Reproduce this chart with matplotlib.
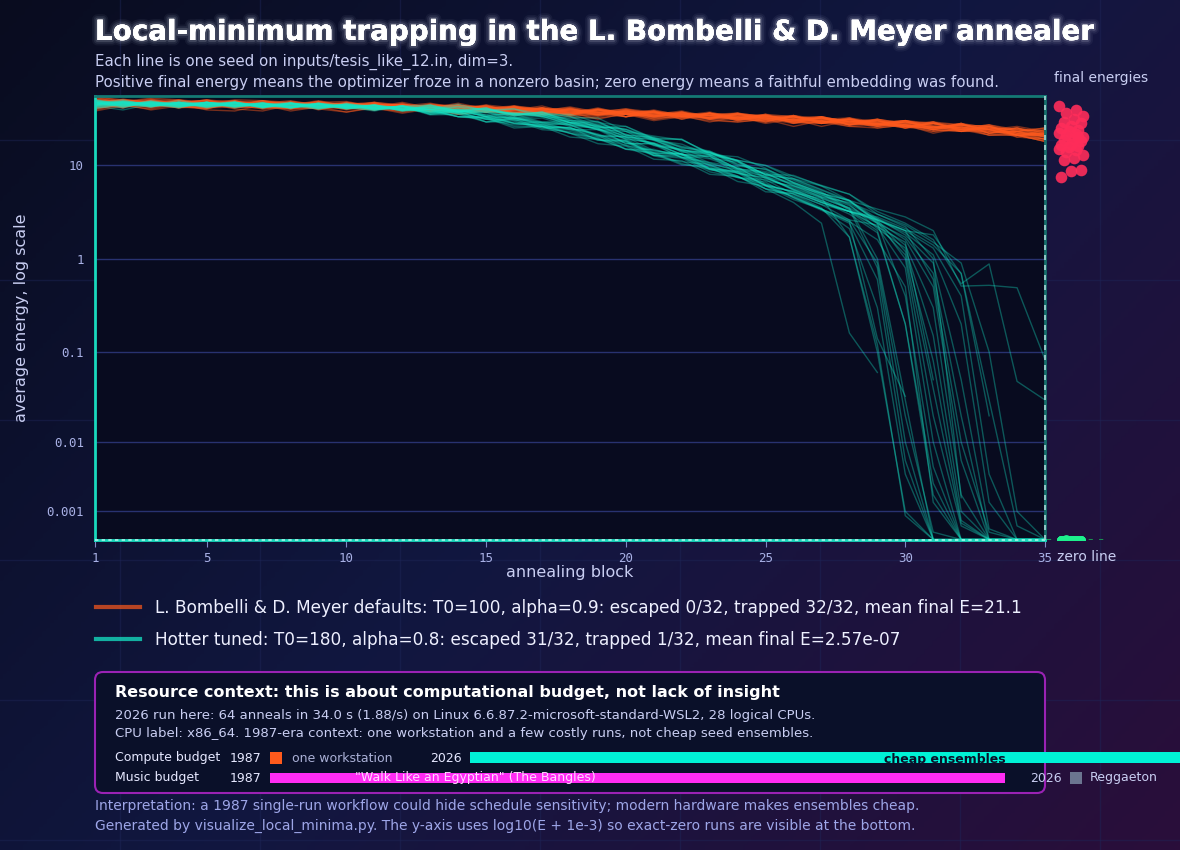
import numpy as np
import matplotlib
matplotlib.use("Agg")
import matplotlib.pyplot as plt
import matplotlib.patheffects as pe
from matplotlib.colors import LinearSegmentedColormap
from matplotlib.patches import FancyBboxPatch, Rectangle
from matplotlib.lines import Line2D

nan = np.nan
blocks = list(range(1, 36))

# average energy per annealing block, one row per seed (defaults: T0=100, alpha=0.9)
default_runs = [
    [49,41,50,44,40,48,43,47,39,45,47,39,44,38,44,36,41,34,40,33,38,31,36,30,35,28,33,27,31,25,29,23,27,20,24],
    [42,50,44,48,41,45,49,40,47,42,39,46,38,44,37,43,35,41,34,39,32,37,31,36,29,34,28,32,26,30,24,28,22,25,20],
    [53,47,51,45,50,44,49,45,47,48,42,47,41,46,40,39,43,36,41,35,39,34,37,32,35,33,29,32,27,30,25,28,23,25,22],
    [40,45,39,43,46,40,38,44,40,37,42,37,41,35,39,36,34,37,31,36,31,34,29,33,28,31,26,30,25,27,23,26,21,22,19],
    [47,43,42,50,47,41,46,47,40,46,44,39,45,40,37,42,36,40,35,33,38,32,36,31,30,34,28,31,28,25,29,23,26,22,20],
    [44,51,46,41,48,49,40,43,48,40,45,44,38,44,39,36,41,35,39,36,33,37,31,35,33,29,33,27,31,28,24,28,22,23,21],
    [55,48,52,50,45,50,49,44,49,43,47,43,46,41,44,41,38,42,37,40,35,38,33,36,33,32,33,29,31,28,29,25,27,23,25],
    [38,43,40,45,39,38,44,38,42,37,41,36,40,35,38,34,36,33,32,35,30,33,30,29,31,26,30,26,25,27,22,25,21,21,18],
    [46,42,49,42,44,48,42,41,46,45,40,45,39,41,43,36,40,38,34,38,37,31,36,30,34,30,32,27,30,26,28,24,25,22,21],
    [48,49,43,46,50,42,47,46,41,47,42,40,43,44,37,42,37,35,39,35,33,36,34,32,29,34,29,31,27,29,25,27,22,25,21],
    [41,46,44,42,40,47,42,40,45,39,43,40,38,41,38,35,39,34,35,35,32,35,31,32,32,29,28,30,26,28,24,23,25,21,19],
    [51,46,50,49,44,43,49,47,44,42,47,44,42,44,39,43,40,37,40,37,38,35,34,35,34,32,33,29,31,27,29,27,24,26,23],
    [44,48,45,41,48,43,46,44,40,43,46,39,43,38,42,40,36,40,36,38,33,36,34,32,34,30,32,28,27,29,25,27,24,21,22],
    [50,42,49,47,42,49,42,48,45,41,45,43,39,44,39,39,41,35,39,35,38,33,36,34,31,33,31,29,30,27,25,28,25,22,22],
    [43,47,41,46,46,41,44,42,45,41,39,43,41,37,41,37,35,39,35,37,33,35,32,31,33,29,30,27,28,25,26,23,23,21,18],
    [48,50,47,45,44,48,46,43,46,46,42,42,44,41,40,42,38,37,39,36,35,37,33,34,32,31,32,30,28,30,26,25,27,24,23],
    [46,41,48,45,47,42,41,47,42,42,44,39,43,43,37,41,39,34,39,37,34,36,32,35,31,33,29,31,29,26,28,24,26,21,21],
    [53,46,46,50,43,49,45,44,48,43,43,45,41,39,43,39,41,39,35,39,36,34,36,32,35,30,33,29,28,30,26,25,25,24,21],
    [41,44,48,41,43,46,44,40,42,43,42,39,40,42,37,39,35,39,37,33,35,34,32,34,30,31,30,27,28,27,24,26,22,23,19],
    [46,48,42,47,47,44,45,46,44,40,45,44,38,43,42,36,40,38,35,38,34,37,32,33,34,28,32,29,30,25,28,25,24,21,22],
    [44,45,49,42,41,48,43,44,46,45,39,44,42,38,42,40,37,36,39,33,37,33,35,31,32,31,28,31,28,26,26,26,23,23,20],
    [51,45,45,48,49,42,46,49,43,46,44,41,45,42,39,42,39,40,36,37,36,34,34,36,31,32,31,30,27,30,27,24,25,24,23],
    [39,45,43,46,41,44,40,43,43,41,42,43,37,41,40,36,38,35,37,36,33,32,34,30,32,29,28,29,26,27,24,23,24,20,19],
    [48,44,47,42,47,45,46,42,46,44,43,39,43,41,39,41,37,38,37,35,34,36,32,33,30,33,30,28,30,26,25,27,24,22,22],
    [43,49,44,49,44,47,41,48,43,42,45,43,39,43,41,38,41,36,39,35,37,33,36,31,34,30,29,31,26,29,26,23,26,21,21],
    [54,50,48,46,50,47,48,45,44,47,43,45,42,44,41,43,39,41,37,40,37,35,35,36,33,34,31,32,29,30,28,27,26,23,25],
    [46,42,47,47,42,44,46,43,42,40,44,42,42,38,40,38,40,36,34,38,34,33,35,33,29,31,30,28,28,26,28,25,22,23,20],
    [44,47,42,45,46,47,43,46,44,45,40,44,38,43,42,36,37,39,37,33,37,33,32,35,32,29,32,27,29,27,24,27,24,21,19],
    [50,49,47,43,49,44,47,42,48,42,46,40,44,43,37,42,39,35,40,35,36,35,32,35,32,33,28,31,27,29,25,24,26,23,24],
    [41,43,45,43,41,42,42,40,41,42,40,38,41,37,39,35,37,35,33,37,31,34,31,29,31,28,29,26,27,26,23,24,21,21,18],
    [48,46,44,49,44,43,47,46,43,46,42,44,41,40,43,37,41,37,35,39,34,35,34,32,34,30,32,28,30,26,28,24,24,25,22],
    [46,44,49,44,47,47,43,43,46,42,45,40,42,43,38,41,36,40,36,35,37,33,36,31,33,33,29,31,27,29,25,27,26,21,21],
]

# hotter schedule: T0=180, alpha=0.8 (nan = run stopped logging)
hot_runs = [
    [48,42,47,44,47,41,46,43,40,45,40,43,35,36,29,31,25,24,19,18,12.8,12.3,8.9,8.3,5.6,4.7,3.4,2.1,0.3,0.004,0,0,0,0,0],
    [44,48,43,47,44,47,41,46,45,40,44,38,44,37,40,34,37,28.5,29,21,19.5,14.4,13.8,9.8,9.1,6.9,5.2,3.4,0.8,0.01,0,0,0,0,0],
    [47,44,48,42,45,44,46,41,46,44,39,43,37.6,33,32,25,26,22,17,16,11.6,11.2,8,7.6,5.6,4.0,2.4,0.16,0.06,nan,nan,nan,nan,nan,nan],
    [43,39,45,46,41,46,43,45,42,41,44,40,37,40,33,33,27,28,24,17,17,12,12.5,8.2,7.4,5.5,4.2,3.2,2.0,0.2,0.003,0,0,0,0],
    [50,46,44,49,44,48,42,46,42,44,41,42,43,39,41,35,36,30,27.6,24,19,15.6,13.8,10.3,8.0,7.8,6.0,4.2,2.5,1.0,0.02,0.0004,0,0,0],
    [42,47,45,41,47,43,46,41,45,42,38,43,35,38,29,32,26,24.5,20,18,13.5,13,9.2,8.6,6.1,4.5,3.4,2.5,0.14,0.033,nan,nan,nan,nan,nan],
    [46,50,43,47,43,47,42,46,41,46,41,39,43,37,41,32,35,28.5,26,20,18.7,13.8,13,9.1,8.6,6.6,5.0,3.3,2.2,1.5,0.05,nan,nan,nan,nan],
    [45,41,48,44,46,42,47,41,46,40,44,40,37,39,33,32,28.5,24,24,19,13.8,13.3,10.3,9,6.1,4.6,3.4,2.5,1.6,0.5,0.0015,0,0,0,0],
    [49,45,44,42,47,43,44,47,40,44,39,43,44,38,41,34,37,33,25,26,19,19,13,12.3,9.3,6.5,5.0,4.2,2.4,1.4,0.3,0.002,0,0,0],
    [43,47,42,47,42,46,41,45,43,44,41,41,37.5,40,34,35,29,30,24,21,17,13,12.6,8.8,8.2,6.1,4.6,4.0,3.0,2.2,1.0,0.0018,nan,nan,nan],
    [47,43,49,44,47,42,46,42,45,41,43,39,39,33,32.5,26,26,20,19,15,13.6,10.4,9.1,7.7,5.2,5.0,3.8,3.2,2.6,2.0,1.8,0.69,0.02,nan,nan],
    [44,49,44,46,43,47,42,46,42,43,40,43,40,45,38,40,35,35,28.6,26,19.5,18.9,13.3,11.3,9.9,7.2,6.0,4.9,3.2,2.4,1.6,0.54,0.88,0.048,0.03],
    [47,42,47,44,46,43,45,42,46,40,44,38,42,36,37,30,32,26,25,17,17,13,11.7,9.2,6.8,6.0,5.0,4.2,3.4,2.8,2.0,0.51,0.52,0.49,0.083],
    [49,46,42,47,44,46,43,45,41,45,39,43,36.5,37,31,31,25,25.5,18.5,18.5,12.8,12.8,9.1,7.4,7.0,4.9,3.8,2.6,0.9,0.02,0.0002,0,0,0,0],
    [42,45,47,42,47,44,44,41,45,42,43,39,41.5,37,40,34,35,29,27,20,19,14,13.5,11,7.2,5.8,4.5,1.7,0.1,0.001,0,0,0,0,0],
    [45,47,43,47,42,45,46,41,44,43,40,43,35.5,39,33,32,28,27,21,20,14.3,13.3,10,8.2,7.3,5.6,4.5,3.4,2.4,0.4,0.005,0,0,0,0],
    [50,43,46,44,46,47,42,45,41,45,41,39,44,38,39,35,37,30,29.5,21,20,15.3,14,11.2,7.9,6.4,4.8,3.9,2.6,1.2,0.08,0.0006,0,0,0],
    [45,48,45,42,47,43,44,46,43,41,44,41,36,37,31,30,24,23,19,16.4,12.7,11.9,8.5,7.4,6.2,5.2,4.0,3.2,2.6,2.0,0.6,0.01,0.0002,0,0],
    [41,46,43,47,44,46,43,42,45,42,41,42,39.5,37,38,31,33.5,27,25,19,17.3,13.1,12.4,9.3,7.5,5.4,4.1,3.0,1.9,0.2,0.002,0,0,0,0],
    [47,45,48,44,43,47,41,46,43,42,44,39,40,35.5,31.5,32,27,25,21,18.4,13.3,13.3,9.3,8.6,6.1,5.2,4.0,3.2,2.7,1.8,0.9,0.05,0.0003,0,0],
    [44,47,44,45,47,44,45,43,45,41,41,43,39,42,39,36,36,31,25.6,24.4,19.5,15.9,14.2,10.1,9.0,6.5,5.1,3.8,2.1,1.3,0.15,0.001,0,0,0],
    [48,44,46,43,46,46,42,44,40,44,43,40,40,33,33,28,26,25,21,14.8,14.8,12.2,9.1,8.4,6.0,5.3,4.0,3.2,2.8,2.1,1.4,0.7,0.03,0.0004,0],
    [43,47,45,47,42,44,46,43,46,41,39,42,39,42,34,36,33.5,27,26,21.6,16.2,14.6,13,9.2,8.3,6.0,4.6,3.5,1.0,0.03,0,0,0,0,0],
    [46,43,47,45,46,42,44,46,42,45,43,39,39.5,36,35,28,29,27,20.4,20.4,16.5,12.1,10.7,9.6,6.3,5.1,4.4,3.5,2.5,1.6,0.5,0.006,0,0,0],
    [45,48,43,46,44,47,43,45,44,41,42,42,40,43,39,40,33,32,32,23,20.5,18.6,13.6,11.3,10,7.6,6.1,4.9,3.0,2.3,1.5,0.9,0.1,0.001,0],
    [48,45,47,43,47,44,45,42,45,42,44,38,39,33,31,27,27.5,22,18.5,17.6,12.6,10.9,10.2,7.6,5.6,4.9,3.5,1.7,0.12,0.0008,0,0,0,0,0],
    [44,45,42,46,44,46,42,46,41,44,40,42,39,38.5,36.5,33.5,28.5,28.5,24.5,19.4,17.3,14.3,10.6,8.6,7.7,5.5,4.2,3.2,2.2,0.8,0.01,0,0,0,0],
    [46,48,46,44,45,43,46,42,45,43,42,40,41.5,37,37,36,34.5,28.5,26.5,23,18.4,14.4,13.7,11,7.9,7.1,5.4,4.1,2.6,1.9,1.1,0.2,0.0015,0,0],
    [40,46,44,47,43,45,44,45,43,44,40,43,37,38,33,28,26.5,25,21.6,16.2,14.4,13,9.9,7.4,6.6,4.5,3.3,2.4,0.6,0.006,0,0,0,0,0],
    [49,44,46,45,47,43,45,43,44,42,43,39,42,37.5,38,35.5,33,28.5,24,23,16.5,14.9,11.9,10.8,7.5,6.3,4.8,3.7,2.4,1.7,0.7,0.02,0,0,0],
    [45,47,45,43,44,46,42,46,42,43,41,42,34.5,35,29,29,26,22,19.5,14.8,13.3,10.1,9.6,6.7,6.0,4.3,3.4,2.6,2.3,1.1,0.04,0.0005,0,0,0],
    [47,43,46,46,42,47,43,41,46,42,43,40,42,38.9,40,35,34,33.6,26.4,24,18.6,16.8,12.8,11.2,7.9,7.2,5.5,4.2,2.7,2.0,1.3,0.4,0.004,0,0],
]

# final energies (end of each anneal)
default_final = [43, 39, 36, 34, 31, 29, 28, 26, 25, 24, 23, 22, 21.5, 21, 20, 19, 18.5, 18,
                 17, 16.5, 16, 15.5, 15, 14.5, 14, 13, 12, 11.5, 9, 8.6, 7.4, 20]
hot_final = [0] * 31 + [8.2e-6]

ytick_vals = [10, 1, 0.1, 0.01, 0.001]
xtick_vals = [1, 5, 10, 15, 20, 25, 30, 35]

legend_labels = [
    "L. Bombelli & D. Meyer defaults: T0=100, alpha=0.9: escaped 0/32, trapped 32/32, mean final E=21.1",
    "Hotter tuned: T0=180, alpha=0.8: escaped 31/32, trapped 1/32, mean final E=2.57e-07",
]

EPS = 1e-3
ORANGE = "#ff5a1c"
TEAL = "#16e6c6"
TXT = "#c9cef2"
W, H = 1180, 850


def fx(px):
    return px / W


def fy(py):
    return 1 - py / H


def tr(v):
    return np.log10(np.asarray(v, dtype=float) + EPS)


fig = plt.figure(figsize=(11.8, 8.5), dpi=100)

# background gradient + faint grid
bg = fig.add_axes([0, 0, 1, 1], zorder=-10)
gx, gy = np.meshgrid(np.linspace(0, 1, 300), np.linspace(0, 1, 300))
cmap = LinearSegmentedColormap.from_list("bg", ["#090c1f", "#111740", "#2a0e3a"])
bg.imshow((gx * 0.6 + gy * 0.4), cmap=cmap, aspect="auto", extent=[0, W, H, 0], origin="upper")
for xv in range(120, 1180, 140):
    bg.axvline(xv, color="#1e2658", lw=1, alpha=0.45)
for yv in range(140, 850, 140):
    bg.axhline(yv, color="#1e2658", lw=1, alpha=0.45)
bg.set_xlim(0, W)
bg.set_ylim(H, 0)
bg.axis("off")

# main axes
ax = fig.add_axes([fx(95), fy(540), fx(1045) - fx(95), fy(96) - fy(540)])
ax.set_facecolor("#080b1f")
for run in default_runs:
    ax.plot(blocks, tr(run), color=ORANGE, lw=1, alpha=0.45)
for run in hot_runs:
    ax.plot(blocks, tr(run), color=TEAL, lw=1, alpha=0.35)

ax.set_xlim(1, 35)
ax.set_ylim(-3.005, 1.74)
ax.set_yticks(tr(ytick_vals))
ax.set_yticklabels([f"{v:g}" for v in ytick_vals])
ax.set_xticks(xtick_vals)
ax.grid(axis="y", color="#283270", lw=1)
ax.set_axisbelow(True)
ax.tick_params(axis="y", length=0, pad=8, labelcolor="#a9b1e6", labelsize=9)
ax.tick_params(axis="x", length=5, color="#8088c4", pad=3.5, labelcolor="#a9b1e6", labelsize=9)
for lab in ax.get_xticklabels() + ax.get_yticklabels():
    lab.set_fontfamily("DejaVu Sans Mono")

ax.spines["left"].set_color("#19d9bd")
ax.spines["left"].set_linewidth(2)
ax.spines["top"].set_color("#147a74")
ax.spines["top"].set_linewidth(2)
ax.spines["bottom"].set_color("#19d9bd")
ax.spines["bottom"].set_linewidth(2)
ax.spines["right"].set_color("#17706c")
ax.spines["right"].set_linewidth(2)
ax.axhline(tr(0), color="#a8f5ea", lw=1.2, ls=(0, (2, 2)), clip_on=False, zorder=5)
ax.axvline(35, color="#a9d8d8", lw=1.2, ls=(0, (3, 3)), clip_on=False, zorder=5)

ax.set_xlabel("annealing block", color=TXT, fontsize=11.5, labelpad=0)
fig.text(fx(22), fy(318), "average energy, log scale", color=TXT, fontsize=11.5,
         rotation=90, ha="center", va="center")

# side panel with final energies
side = fig.add_axes([fx(1047), fy(540), fx(65), fy(96) - fy(540)], zorder=3)
side.set_xlim(0, 1)
side.set_ylim(-3.005, 1.74)
side.axis("off")
n = len(default_final)
jit = 0.18 + 0.38 * ((np.arange(n) * 7) % 11) / 10
side.scatter(jit, tr(default_final), s=70, color="#ff2d5a", alpha=0.9, lw=0, zorder=3)
m = len(hot_final)
jit2 = 0.22 + 0.3 * ((np.arange(m) * 5) % 9) / 8
side.plot([0, 0.92], [tr(0), tr(0)], color="#1a8f50", lw=1.5, ls=(0, (2, 3)), zorder=1)
side.scatter(jit2, tr(hot_final), s=40, color="#1df08c", lw=0, zorder=3)
fig.text(fx(1101), fy(78), "final energies", color=TXT, fontsize=10, ha="center", va="center")
fig.text(fx(1057), fy(557), "zero line", color=TXT, fontsize=10, ha="left", va="center")

# title + subtitle (soft glow)
title = fig.text(fx(95), fy(32), "Local-minimum trapping in the L. Bombelli & D. Meyer annealer",
                 color="white", fontsize=20, weight="bold", ha="left", va="center")
title.set_path_effects([pe.withStroke(linewidth=8, foreground="#dfe6ff", alpha=0.05),
                        pe.withStroke(linewidth=5.5, foreground="#dfe6ff", alpha=0.08),
                        pe.withStroke(linewidth=3, foreground="#eef2ff", alpha=0.14),
                        pe.Normal()])
fig.text(fx(95), fy(62), "Each line is one seed on inputs/tesis_like_12.in, dim=3.",
         color=TXT, fontsize=10.8, ha="left", va="center")
fig.text(fx(95), fy(82), "Positive final energy means the optimizer froze in a nonzero basin; "
         "zero energy means a faithful embedding was found.",
         color=TXT, fontsize=10.8, ha="left", va="center")

# legend
handles = [Line2D([], [], color=ORANGE, lw=3, alpha=0.7),
           Line2D([], [], color=TEAL, lw=3, alpha=0.75)]
fig.legend(handles, legend_labels, loc="upper left", bbox_to_anchor=(fx(81), fy(584)),
           frameon=False, fontsize=12.2, labelcolor="#eef0ff", handlelength=2.6,
           handletextpad=0.85, labelspacing=0.8)

# resource box
box = FancyBboxPatch((0.95, (H - 793) / 100), 9.5, 1.21,
                     boxstyle="round,pad=0,rounding_size=0.08",
                     transform=fig.dpi_scale_trans, fc="#0a1029", ec="#9a22b4", lw=1.5)
fig.patches.append(box)
fig.text(fx(115), fy(692), "Resource context: this is about computational budget, not lack of insight",
         color="white", fontsize=11.5, weight="bold", ha="left", va="center")
fig.text(fx(115), fy(716), "2026 run here: 64 anneals in 34.0 s (1.88/s) on Linux "
         "6.6.87.2-microsoft-standard-WSL2, 28 logical CPUs.",
         color=TXT, fontsize=9.5, ha="left", va="center")
fig.text(fx(115), fy(734), "CPU label: x86_64. 1987-era context: one workstation and a few costly runs, "
         "not cheap seed ensembles.", color=TXT, fontsize=9.5, ha="left", va="center")


def rect(x0, x1, y0, y1, color):
    fig.patches.append(Rectangle(((x0) / 100, (H - y1) / 100), (x1 - x0) / 100, (y1 - y0) / 100,
                                 transform=fig.dpi_scale_trans, color=color, lw=0))


row1, row2 = 758, 778
fig.text(fx(115), fy(row1), "Compute budget", color="#e6e8ff", fontsize=9, va="center")
fig.text(fx(230), fy(row1), "1987", color="#e6e8ff", fontsize=9, va="center")
rect(270, 282, 752, 764, ORANGE)
fig.text(fx(292), fy(row1), "one workstation", color="#aab0d6", fontsize=9, va="center")
fig.text(fx(430), fy(row1), "2026", color="#e6e8ff", fontsize=9, va="center")
rect(470, 1200, 752, 763, "#00f2d6")
fig.text(fx(945), fy(row1 + 1), "cheap ensembles", color="#0a1029", fontsize=9, weight="bold",
         ha="center", va="center")

fig.text(fx(115), fy(row2), "Music budget", color="#e6e8ff", fontsize=9, va="center")
fig.text(fx(230), fy(row2), "1987", color="#e6e8ff", fontsize=9, va="center")
rect(270, 1005, 773, 783, "#ff2cf3")
fig.text(fx(475), fy(row2), '"Walk Like an Egyptian" (The Bangles)', color="#ffd8ff", fontsize=9,
         ha="center", va="center")
fig.text(fx(1030), fy(row2), "2026", color="#c9cef2", fontsize=9, va="center")
rect(1070, 1082, 772, 784, "#6b7590")
fig.text(fx(1090), fy(row2), "Reggaeton", color="#c9cef2", fontsize=9, va="center")

# footer
fig.text(fx(95), fy(806), "Interpretation: a 1987 single-run workflow could hide schedule sensitivity; "
         "modern hardware makes ensembles cheap.", color="#9ea6e8", fontsize=10, va="center")
fig.text(fx(95), fy(826), "Generated by visualize_local_minima.py. The y-axis uses log10(E + 1e-3) "
         "so exact-zero runs are visible at the bottom.", color="#9ea6e8", fontsize=10, va="center")

fig.savefig("out.png", dpi=100, facecolor="#0b0f26")
